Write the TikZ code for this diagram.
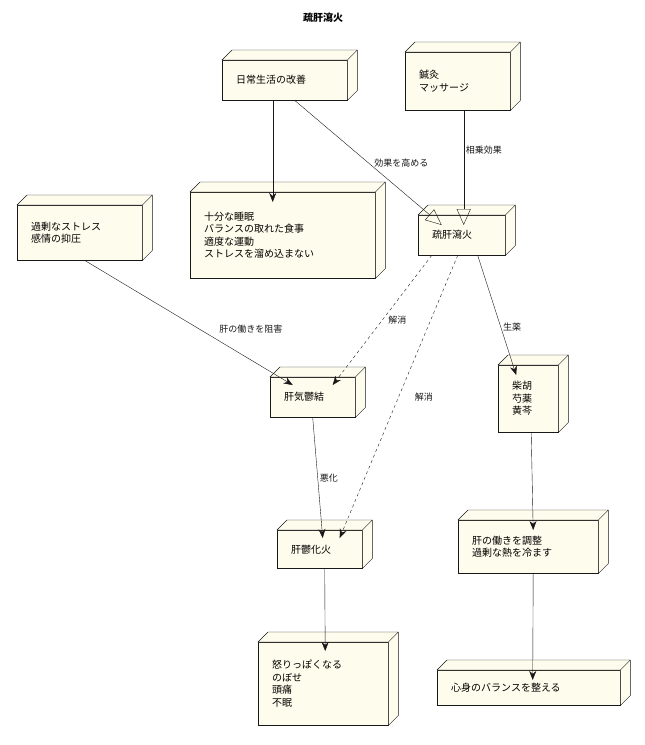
\documentclass[tikz,border=0pt]{standalone}
\usepackage{fontspec}
\setmainfont{Noto Sans CJK JP}
\usetikzlibrary{arrows.meta}
\definecolor{nodefill}{RGB}{254,252,236}
\definecolor{edgegray}{RGB}{24,24,24}
\begin{document}
\begin{tikzpicture}[x=1pt, y=-1pt, >={Stealth[length=9pt,width=7pt]},
  box/.style={draw=edgegray, fill=nodefill, anchor=north west, align=left,
    inner xsep=14pt, font=\fontsize{10}{12.5}\selectfont},
  lbl/.style={font=\fontsize{9}{11}\selectfont, inner sep=2pt},
  open/.style={-{Triangle[open, length=16pt, width=14pt]}}]
  \useasboundingbox (0,0) rectangle (645,745);
  % title
  \node[font=\bfseries\fontsize{10}{12}\selectfont] (title) at (323,18) {疏肝瀉火};

  % nodes
  \node[box, minimum width=125pt, minimum height=40pt, text width=97pt] (life) at (222,60) {日常生活の改善};
  \node[box, minimum width=105pt, minimum height=58pt, text width=77pt] (acu) at (405,52) {鍼灸\\マッサージ};
  \node[box, minimum width=185pt, minimum height=86pt, text width=157pt] (sleep) at (190,192) {十分な睡眠\\バランスの取れた食事\\適度な運動\\ストレスを溜め込まない};
  \node[box, minimum width=125pt, minimum height=55pt, text width=97pt] (stress) at (17,205) {過剰なストレス\\感情の抑圧};
  \node[box, minimum width=87pt, minimum height=40pt, text width=59pt] (main) at (418,215) {疏肝瀉火};
  \node[box, minimum width=85pt, minimum height=40pt, text width=57pt] (qi) at (270,377) {肝気鬱結};
  \node[box, minimum width=60pt, minimum height=67pt, text width=32pt] (herb) at (498,365) {柴胡\\芍薬\\黄芩};
  \node[box, minimum width=85pt, minimum height=38pt, text width=57pt] (fire) at (277,530) {肝鬱化火};
  \node[box, minimum width=140pt, minimum height=53pt, text width=112pt] (adjust) at (458,520) {肝の働きを調整\\過剰な熱を冷ます};
  \node[box, minimum width=130pt, minimum height=83pt, text width=102pt] (symp) at (258,642) {怒りっぽくなる\\のぼせ\\頭痛\\不眠};
  \node[box, minimum width=183pt, minimum height=35pt, text width=155pt] (balance) at (437,670) {心身のバランスを整える};

  % depth faces
  \foreach \n in {life,acu,sleep,stress,main,qi,herb,fire,adjust,symp,balance}
    \draw[draw=edgegray, fill=nodefill] (\n.north west) -- ++(10,-10)
      -- ([shift={(10,-10)}]\n.north east) -- ([shift={(10,-10)}]\n.south east)
      -- (\n.south east) -- (\n.north east) -- cycle
      (\n.north east) -- ++(10,-10);

  % connectors
  \draw[->, edgegray] ([xshift=-12pt]life.south) -- ([xshift=-10pt,yshift=-10pt]sleep.north);
  \draw[open, edgegray] ([xshift=10pt]life.south) -- ([xshift=-20pt,yshift=-10pt]main.north)
    node[lbl, pos=0.5, right, xshift=4pt] {効果を高める};
  \draw[open, edgegray] ([xshift=6pt]acu.south) -- ([xshift=2pt,yshift=-10pt]main.north)
    node[lbl, pos=0.35, right] {相乗効果};
  \draw[->, edgegray] ([xshift=5pt]stress.south) -- ([xshift=-20pt,yshift=-8pt]qi.north)
    node[lbl, pos=0.55, right, xshift=18pt] {肝の働きを阻害};
  \draw[->, dashed, edgegray] ([xshift=-30pt]main.south) -- ([xshift=20pt,yshift=-8pt]qi.north)
    node[lbl, pos=0.5, right, xshift=4pt] {解消};
  \draw[->, dashed, edgegray] ([xshift=-4pt]main.south) -- ([xshift=20pt,yshift=-8pt]fire.north)
    node[lbl, pos=0.5, right, xshift=14pt] {解消};
  \draw[->, edgegray] ([xshift=16pt]main.south) -- ([xshift=-12pt,yshift=-10pt]herb.north)
    node[lbl, pos=0.6, right] {生薬};
  \draw[->, edgegray] (qi.south) -- ([xshift=3pt,yshift=-8pt]fire.north)
    node[lbl, pos=0.5, right] {悪化};
  \draw[->, edgegray] ([xshift=3pt]herb.south) -- ([xshift=5pt,yshift=-10pt]adjust.north);
  \draw[->, edgegray] ([xshift=5pt]fire.south) -- ([xshift=2pt,yshift=-9pt]symp.north);
  \draw[->, edgegray] ([xshift=5pt]adjust.south) -- ([xshift=4pt,yshift=-10pt]balance.north);
\end{tikzpicture}
\end{document}
